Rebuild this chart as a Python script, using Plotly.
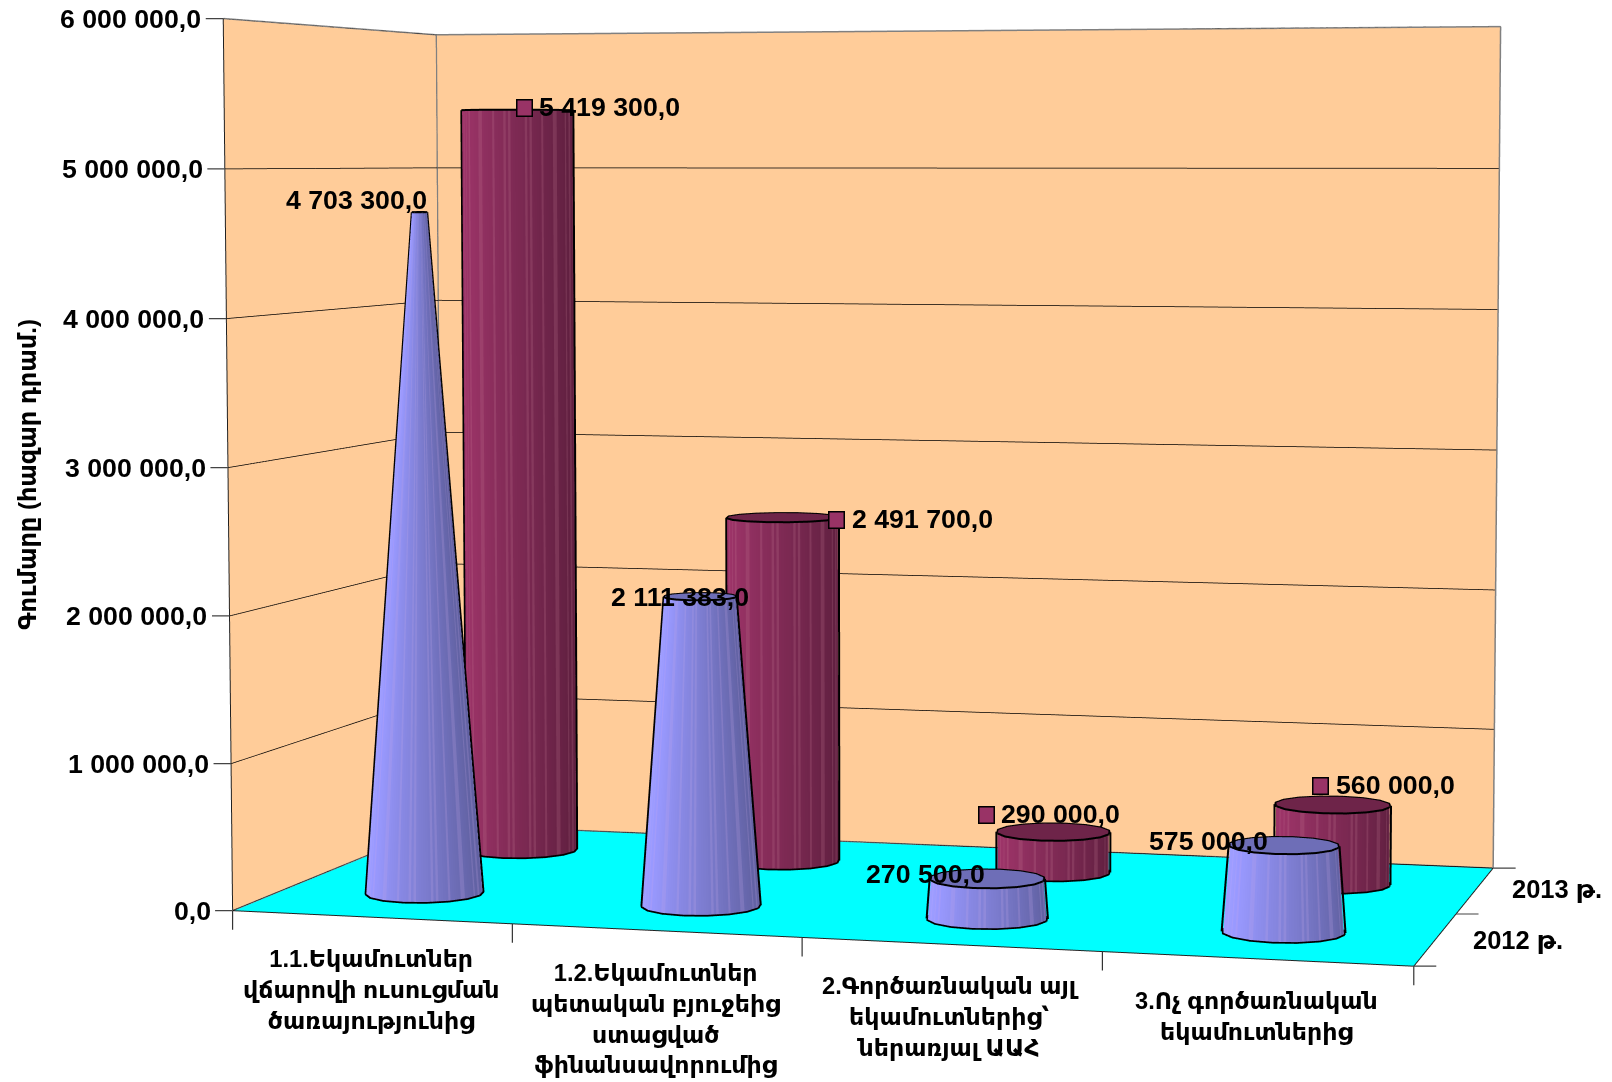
import numpy as np
import plotly.graph_objects as go

CATEGORIES = ["1.1.Եկամուտներ<br>վճարովի ուսուցման<br>ծառայությունից",
              "1.2.Եկամուտներ<br>պետական բյուջեից<br>ստացված<br>ֆինանսավորումից",
              "2.Գործառնական այլ<br>եկամուտներից՝<br>ներառյալ ԱԱՀ",
              "3.Ոչ գործառնական<br>եկամուտներից"]
SERIES = ["2012 թ.", "2013 թ."]
VALUES_2012 = [4703300, 2111383, 270500, 575000]
VALUES_2013 = [5419300, 2491700, 290000, 560000]
Z_TICKS = [0, 1000000, 2000000, 3000000, 4000000, 5000000, 6000000]
Z_LABELS = ["0,0", "1 000 000,0", "2 000 000,0", "3 000 000,0", "4 000 000,0", "5 000 000,0", "6 000 000,0"]
Y_TITLE = "Գումարը (հազար դրամ.)"

# camera calibration (scene aspect, eye, centre, focal length in px, principal point in px)
ax, ay = 1.335, .657
ex, ey, ez = 1.315, -4.847, .344
cx, cy, cz = 0, .154, 0
F, PX, PY = 4370, 915, 450.064
LW = int(round(2 * PX))
LH = int(round(2 * F * np.tan(np.pi / 8)))
TOP = PY - LH / 2

BLUE = np.array([0x99, 0x99, 0xFF]); PURPLE = np.array([0x99, 0x33, 0x66])
STRIPE = {id(BLUE): np.array([0xC8, 0xA8, 0xE8]), id(PURPLE): np.array([0xC8, 0x80, 0x98])}
N = 144
SIDES = 16
RAD = .2  # category-widths
ry = RAD * ax / 4 / (ay / 2)  # keep footprint round in scene space


def colour(c):
    return "rgb(%d,%d,%d)" % tuple(np.clip(c, 0, 255).astype(int))


def ring(ang):
    seg = 2 * np.pi / SIDES
    return np.cos(seg / 2) / np.cos(np.mod(ang, seg) - seg / 2)


def bar(xc, yc, val, base, taper):
    rt = 1 - val / 5.4e6 if taper else 1
    ang = np.linspace(0, 2 * np.pi, N, endpoint=False)
    rr = ring(ang)
    xs = np.r_[xc + RAD * rr * np.cos(ang), xc + RAD * rt * rr * np.cos(ang), xc]
    ys = np.r_[yc + ry * rr * np.sin(ang), yc + ry * rt * rr * np.sin(ang), yc]
    zs = np.r_[np.zeros(N), np.full(N, val), val]
    i, j, k, fc = [], [], [], []
    for a in range(N):
        b = (a + 1) % N
        mid = ang[a] + np.pi / N
        t = np.cos(mid) * .85 + np.sin(mid) * .15
        col = base * (.85 - .22 * t - .06 * max(t, 0) ** 6)
        if a % 7 == 0 or a % 11 == 0:
            col = col * .8 + STRIPE[id(base)] * .2
        c = colour(col)
        i += [a, b]; j += [b, b + N]; k += [a + N, a + N]; fc += [c, c]
        i.append(a + N); j.append(b + N); k.append(2 * N); fc.append(colour(base * .72))
    mesh = go.Mesh3d(x=xs, y=ys, z=zs, i=i, j=j, k=k, facecolor=fc, flatshading=True, hoverinfo="skip",
                     lighting=dict(ambient=1, diffuse=0, specular=0, roughness=1, fresnel=0), showscale=False)
    view = np.arctan2(ey - (yc / 2 - .5) * ay, ex - (xc / 4 - .5) * ax)
    s = 1.012
    circ = np.linspace(0, 2 * np.pi, SIDES + 1)
    lx, ly, lz = [], [], []
    lx += list(xc + s * RAD * np.cos(circ)) + [None]; ly += list(yc + s * ry * np.sin(circ)) + [None]; lz += [1e3] * (SIDES + 1) + [None]
    lx += list(xc + s * RAD * rt * np.cos(circ)) + [None]; ly += list(yc + s * ry * rt * np.sin(circ)) + [None]; lz += [val] * (SIDES + 1) + [None]
    for sg in (-1, 1):
        th = view + sg * np.pi / 2
        lx += [xc + s * RAD * np.cos(th), xc + s * RAD * rt * np.cos(th), None]
        ly += [yc + s * ry * np.sin(th), yc + s * ry * rt * np.sin(th), None]
        lz += [0, val, None]
    line = go.Scatter3d(x=lx, y=ly, z=lz, mode="lines", line=dict(color="black", width=4), hoverinfo="skip", showlegend=False)
    return [mesh, line]


fig = go.Figure()
for n, (a, b) in enumerate(zip(VALUES_2012, VALUES_2013)):
    for tr in bar(n + .5, 1.5, b, PURPLE, False):
        fig.add_trace(tr)
    for tr in bar(n + .5, .5, a, BLUE, True):
        fig.add_trace(tr)

GREY = "#808080"
fig.add_trace(go.Scatter3d(x=[0, 0, 4, 4, None, 0, 0, None, 0, 4, None, 0, 0],
                           y=[0, 2, 2, 2, None, 2, 2, None, 2, 2, None, 0, 2],
                           z=[6e6, 6e6, 6e6, 0, None, 0, 6e6, None, 0, 0, None, 0, 0],
                           mode="lines", line=dict(color=GREY, width=3), hoverinfo="skip", showlegend=False))
fig.add_trace(go.Scatter3d(x=[0, 4, 4, None, 0, 0], y=[0, 0, 2, None, 0, 0], z=[0, 0, 0, None, 0, 6e6],
                           mode="lines", line=dict(color="#222", width=2), hoverinfo="skip", showlegend=False))

FONT = "Liberation Sans, Arial, DejaVu Sans"
tf = dict(family=FONT, size=26.7, color="black")
cf = dict(family=FONT, size=23.7, color="black")
sf = dict(family=FONT, size=25.5, color="black")
ann = []
tick = dict(text=" ", showarrow=True, arrowhead=0, arrowwidth=1.2, standoff=0, startstandoff=0, font=dict(size=1))
for v, s in zip(Z_TICKS, Z_LABELS):
    ann.append(dict(x=0, y=0, z=v, text="<b>%s</b>" % s, showarrow=False, xanchor="right", xshift=-20, font=tf))
    ann.append(dict(tick, x=0, y=0, z=v, ax=-19, ay=0, arrowcolor="#444"))
for n in range(5):
    ann.append(dict(tick, x=n, y=0, z=0, ax=0, ay=21, arrowcolor="#333"))
for n in range(3):
    ann.append(dict(tick, x=4, y=n, z=0, ax=24, ay=0, arrowcolor="#444"))
for n, c in enumerate(CATEGORIES):
    ann.append(dict(x=n + .5, y=0, z=0, text="<b>%s</b>" % c, showarrow=False, yanchor="top", yshift=-27, font=cf))
SER_SHIFT = [-1, 1]
for n, s in enumerate(SERIES):
    ann.append(dict(x=4, y=n + .5, z=0, text="<b>%s</b>" % s, showarrow=False, xanchor="left", xshift=35, yshift=SER_SHIFT[n], font=sf))


def fmt(v):
    return f"{v:,.1f}".replace(",", " ").replace(".", ",")


L12 = [(9, 12), (51, 0), (0, 5), (-14, 4)]
for n, v in enumerate(VALUES_2012):
    dx, dy = L12[n]
    ann.append(dict(x=n + .5, y=.5, z=v, text="<b>%s</b>" % fmt(v), showarrow=False, xanchor="right", xshift=dx, yshift=dy, font=tf))
L13 = [(7, 2), (54, -2), (-67, 17), (-12, 19)]
for n, v in enumerate(VALUES_2013):
    dx, dy = L13[n]
    ann.append(dict(x=n + .5, y=1.5, z=v, text="&nbsp;&nbsp;&nbsp;&nbsp;&nbsp;", showarrow=False, xshift=dx, yshift=dy, bgcolor="#993366",
                    bordercolor="black", borderwidth=1.5, borderpad=0, font=dict(size=11)))
    ann.append(dict(x=n + .5, y=1.5, z=v, text="<b>%s</b>" % fmt(v), showarrow=False, xanchor="left", xshift=dx + 13, yshift=dy + 1, font=tf))

ax_common = dict(showgrid=False, zeroline=False, showspikes=False, title="", showticklabels=False, ticks="",
                 showline=False)
fig.update_layout(
    width=LW, height=LH, margin=dict(l=0, r=0, t=0, b=0), showlegend=False, paper_bgcolor="white", hovermode=False,
    scene=dict(
        domain=dict(x=[0, 1], y=[0, 1]),
        aspectmode="manual", aspectratio=dict(x=ax, y=ay, z=1),
        camera=dict(eye=dict(x=ex, y=ey, z=ez), center=dict(x=cx, y=cy, z=cz), up=dict(x=0, y=0, z=1),
                    projection=dict(type="perspective")),
        xaxis=dict(ax_common, range=[0, 4], tickvals=[0, 1, 2, 3, 4], showbackground=True, backgroundcolor="#FFCC99"),
        yaxis=dict(ax_common, range=[0, 2], tickvals=[0, 1, 2], showbackground=True, backgroundcolor="#FFCC99"),
        zaxis=dict(ax_common, range=[0, 6e6], tickvals=Z_TICKS, showbackground=True, backgroundcolor="#00FFFF",
                   showgrid=True, gridcolor="#000", gridwidth=1.5),
        annotations=ann,
    ),
    annotations=[dict(xref="paper", yref="paper", x=28 / LW, y=1 - (475 - TOP) / LH, text="<b>%s</b>" % Y_TITLE, textangle=-90,
                      xanchor="center", yanchor="middle", showarrow=False, font=dict(family=FONT, size=24, color="black"))],
)
js = ("document.documentElement.style.overflow='hidden';document.body.style.overflow='hidden';"
      "document.body.style.margin='0';document.body.style.marginTop='%dpx';" % round(TOP))
fig.write_html("out.html", post_script=js, config=dict(displayModeBar=False))
